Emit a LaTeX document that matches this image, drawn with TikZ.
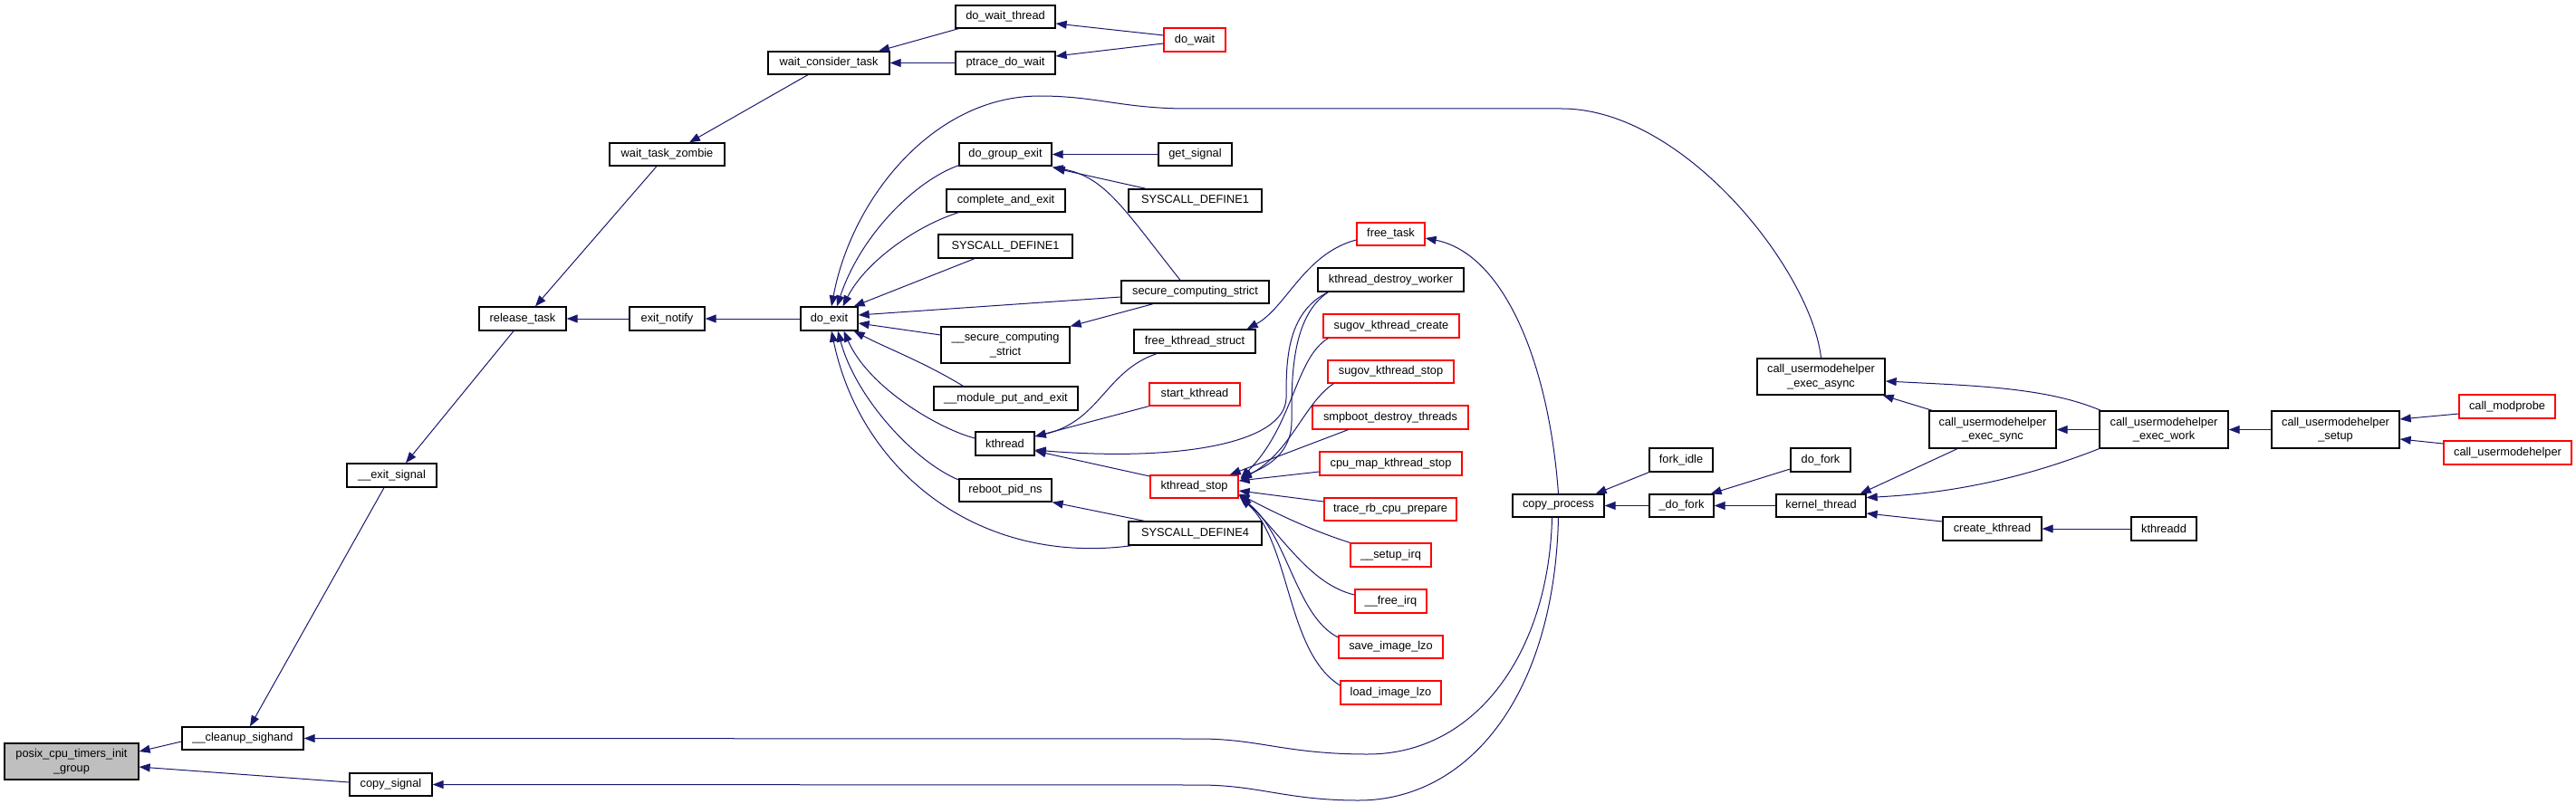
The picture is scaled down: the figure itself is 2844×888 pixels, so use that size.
\documentclass[tikz,border=0pt]{standalone}
\usepackage{fontspec}
\setmainfont{Liberation Sans}
\usetikzlibrary{arrows.meta}
\definecolor{navyc}{RGB}{25,25,112}
\definecolor{grayfill}{RGB}{191,191,191}
\tikzset{
  fn/.style={draw=black, line width=1.3pt, fill=white, inner sep=0pt, align=center,
    font=\fontsize{12.8}{15.5}\selectfont},
  fnred/.style={fn, draw=red},
  fngray/.style={fn, fill=grayfill},
  callarr/.style={draw=navyc, line width=1pt, -{Triangle[length=12pt,width=9pt]}}
}
\newcommand{\fnbox}[6]{\node[#1, minimum width=#4pt, minimum height=#5pt] (#2) at (#3) {#6};}
\begin{document}
\begin{tikzpicture}[x=1pt,y=-1pt]
\useasboundingbox (0,0) rectangle (2844,888);
% nodes
\fnbox{fngray}{posix}{79,841}{148}{40}{posix\_cpu\_timers\_init\\\_group}
\fnbox{fn}{cleanup}{268,815.5}{134}{25}{\_\_cleanup\_sighand}
\fnbox{fn}{copysig}{431.5,866.5}{91}{25}{copy\_signal}
\fnbox{fn}{exitsig}{432.5,525}{99}{26}{\_\_exit\_signal}
\fnbox{fn}{reltask}{577,352}{96}{26}{release\_task}
\fnbox{fn}{wtz}{736.5,170.5}{127}{25}{wait\_task\_zombie}
\fnbox{fn}{wct}{915,69.5}{134}{25}{wait\_consider\_task}
\fnbox{fn}{dwt}{1110,18.5}{110}{25}{do\_wait\_thread}
\fnbox{fn}{pdw}{1110,69.5}{110}{25}{ptrace\_do\_wait}
\fnbox{fnred}{dowait}{1319,44}{68}{26}{do\_wait}
\fnbox{fn}{exnot}{736.5,352}{83}{26}{exit\_notify}
\fnbox{fn}{doexit}{915.5,352}{63}{26}{do\_exit}
\fnbox{fn}{dge}{1110,170.5}{102}{25}{do\_group\_exit}
\fnbox{fn}{getsig}{1319.5,170.5}{81}{25}{get\_signal}
\fnbox{fn}{sdb}{1319.5,221.5}{147}{25}{SYSCALL\_DEFINE1}
\fnbox{fn}{cae}{1110.5,221.5}{131}{25}{complete\_and\_exit}
\fnbox{fn}{sda}{1110,272}{148}{26}{SYSCALL\_DEFINE1}
\fnbox{fn}{scs}{1319.5,322.5}{163}{25}{secure\_computing\_strict}
\fnbox{fn}{uscs}{1110,381}{142}{40}{\_\_secure\_computing\\\_strict}
\fnbox{fn}{mpe}{1110.5,440}{159}{26}{\_\_module\_put\_and\_exit}
\fnbox{fn}{kth}{1109.5,490}{65}{26}{kthread}
\fnbox{fn}{rpn}{1110,541.5}{102}{25}{reboot\_pid\_ns}
\fnbox{fn}{sdd}{1319.5,589}{147}{26}{SYSCALL\_DEFINE4}
\fnbox{fn}{fks}{1319,377}{134}{26}{free\_kthread\_struct}
\fnbox{fnred}{skt}{1319,435.5}{100}{25}{start\_kthread}
\fnbox{fnred}{kst}{1318.5,537.5}{97}{25}{kthread\_stop}
\fnbox{fnred}{ftask}{1535.5,258.5}{75}{25}{free\_task}
\fnbox{fn}{kdw}{1535.5,309}{161}{26}{kthread\_destroy\_worker}
\fnbox{fnred}{sgc}{1536,360}{150}{26}{sugov\_kthread\_create}
\fnbox{fnred}{sgs}{1535.5,410.5}{139}{25}{sugov\_kthread\_stop}
\fnbox{fnred}{sdt}{1535,461}{172}{26}{smpboot\_destroy\_threads}
\fnbox{fnred}{cmk}{1535.5,512}{157}{26}{cpu\_map\_kthread\_stop}
\fnbox{fnred}{trc}{1535,562.5}{146}{25}{trace\_rb\_cpu\_prepare}
\fnbox{fnred}{sirq}{1535.5,613}{89}{26}{\_\_setup\_irq}
\fnbox{fnred}{firq}{1535.5,664}{79}{26}{\_\_free\_irq}
\fnbox{fnred}{sil}{1535.5,714.5}{115}{25}{save\_image\_lzo}
\fnbox{fnred}{lil}{1535.5,765}{111}{26}{load\_image\_lzo}
\fnbox{fn}{cp}{1720.5,558.5}{101}{25}{copy\_process}
\fnbox{fn}{fidle}{1856,508}{70}{26}{fork\_idle}
\fnbox{fn}{udf}{1856.5,558.5}{71}{25}{\_do\_fork}
\fnbox{fn}{dofork}{2010,508}{66}{26}{do\_fork}
\fnbox{fn}{kt}{2010.5,558.5}{99}{25}{kernel\_thread}
\fnbox{fn}{ck}{2199.5,584}{109}{26}{create\_kthread}
\fnbox{fn}{kthd}{2389,584}{72}{26}{kthreadd}
\fnbox{fn}{ea}{2010.5,416}{141}{40}{call\_usermodehelper\\\_exec\_async}
\fnbox{fn}{es}{2200,474.5}{140}{41}{call\_usermodehelper\\\_exec\_sync}
\fnbox{fn}{ew}{2389,474.5}{142}{41}{call\_usermodehelper\\\_exec\_work}
\fnbox{fn}{setup}{2578.5,474.5}{141}{41}{call\_usermodehelper\\\_setup}
\fnbox{fnred}{cmp}{2768,449}{106}{26}{call\_modprobe}
\fnbox{fnred}{cu}{2768.5,500}{141}{26}{call\_usermodehelper}
% edges
\draw[callarr] ([yshift=-3.5pt]cleanup.west) -- ([yshift=11pt]posix.east);
\draw[callarr] ([yshift=2.5pt]copysig.west) -- ([yshift=-6pt]posix.east);
\draw[callarr] ([xshift=-8.5pt]exitsig.south) -- ([xshift=8pt]cleanup.north);
\draw[callarr] ([xshift=-7pt]cp.south) .. controls (1710,720) and (1630,833) .. (1510,833) .. controls (1420,833) and (1390,816) .. (1324,816) -- (cleanup.east);
\draw[callarr] (cp.south) .. controls (1716,770) and (1620,884) .. (1500,884) .. controls (1420,884) and (1390,867) .. (1324,867) -- (copysig.east);
\draw[callarr] ([xshift=-10pt]reltask.south) -- ([xshift=15.5pt]exitsig.north);
\draw[callarr] ([xshift=-11.5pt]wtz.south) -- ([xshift=14pt]reltask.north);
\draw[callarr] (exnot.west) -- (reltask.east);
\draw[callarr] ([xshift=-23pt]wct.south) -- ([xshift=24.5pt]wtz.north);
\draw[callarr] ([xshift=4pt]dwt.south west) -- ([xshift=55pt]wct.north);
\draw[callarr] (pdw.west) -- (wct.east);
\draw[callarr] ([yshift=5pt]dowait.west) -- ([yshift=-7.5pt]dwt.east);
\draw[callarr] ([yshift=-4pt]dowait.west) -- ([yshift=7.5pt]pdw.east);
\draw[callarr] (doexit.west) -- (exnot.east);
\draw[callarr] (ea.north) .. controls (2000,300) and (1860,120) .. (1724,120) -- (1312,120) .. controls (1240,120) and (1210,106) .. (1148,106) .. controls (1030,106) and (940,220) .. ([xshift=2.5pt]doexit.north);
\draw[callarr] ([yshift=1pt]dge.south west) .. controls (1010,200) and (950,260) .. ([xshift=8.5pt]doexit.north);
\draw[callarr] ([xshift=14pt]cae.south west) .. controls (1010,250) and (955,290) .. ([xshift=15pt]doexit.north);
\draw[callarr] ([xshift=-34pt]sda.south) -- ([xshift=-5pt]doexit.north east);
\draw[callarr] ([yshift=-5.5pt]scs.west) -- ([yshift=4pt]doexit.east);
\draw[callarr] ([yshift=11pt]uscs.west) -- ([yshift=-5pt]doexit.east);
\draw[callarr] ([xshift=33pt]mpe.north west) .. controls (1020,400) and (980,385) .. ([xshift=-5pt]doexit.south east);
\draw[callarr] ([yshift=6pt]kth.west) .. controls (1040,475) and (960,430) .. ([xshift=16pt]doexit.south);
\draw[callarr] ([yshift=11.5pt]rpn.west) .. controls (1010,510) and (945,440) .. ([xshift=9.5pt]doexit.south);
\draw[callarr] ([xshift=4pt]sdd.south west) .. controls (1080,625) and (950,520) .. ([xshift=2.5pt]doexit.south);
\draw[callarr] (getsig.west) -- (dge.east);
\draw[callarr] ([xshift=20pt]sdb.north west) -- ([xshift=2pt,yshift=-2pt]dge.south east);
\draw[callarr] ([xshift=-16.5pt]scs.north) .. controls (1240,230) and (1220,195) .. ([yshift=-1pt]dge.south east);
\draw[callarr] ([xshift=-46.5pt]scs.south) -- (uscs.north east);
\draw[callarr] ([xshift=-42pt]fks.south) .. controls (1220,410) and (1215,465) .. ([yshift=8pt]kth.east);
\draw[callarr] (skt.south west) -- ([yshift=8pt]kth.east);
\draw[callarr] ([xshift=12pt]kdw.south west) .. controls (1420,345) and (1420,400) .. (1420,440) .. controls (1418,490) and (1300,510) .. ([yshift=-7pt]kth.east);
\draw[callarr] ([yshift=11.5pt]kst.west) -- ([yshift=-8pt]kth.east);
\draw[callarr] ([yshift=-6.5pt]ftask.west) .. controls (1440,280) and (1420,340) .. ([xshift=-10pt]fks.north east);
\draw[callarr] (cp.north) .. controls (1710,400) and (1660,280) .. ([yshift=-4.5pt]ftask.east);
\draw[callarr] ([xshift=12pt]kdw.south west) .. controls (1425,350) and (1426,420) .. (1426,465) .. controls (1426,500) and (1400,515) .. ([xshift=2pt,yshift=-3pt]kst.north east);
\draw[callarr] ([xshift=6pt]sgc.south west) .. controls (1430,395) and (1428,470) .. ([xshift=2pt,yshift=-4pt]kst.north east);
\draw[callarr] ([xshift=7pt]sgs.south west) .. controls (1440,445) and (1425,500) .. ([xshift=2pt,yshift=-5pt]kst.north east);
\draw[callarr] ([xshift=40pt]sdt.south west) -- ([xshift=-10pt]kst.north east);
\draw[callarr] ([yshift=-9pt]cmk.west) -- ([yshift=6.5pt]kst.east);
\draw[callarr] ([yshift=8.5pt]trc.west) -- ([yshift=-4.5pt]kst.east);
\draw[callarr] (sirq.north west) .. controls (1445,585) and (1405,565) .. ([yshift=-8pt]kst.east);
\draw[callarr] ([yshift=7pt]firq.west) .. controls (1445,645) and (1415,590) .. ([yshift=-9pt]kst.east);
\draw[callarr] ([yshift=10.5pt]sil.west) .. controls (1430,680) and (1422,590) .. ([xshift=1pt,yshift=2pt]kst.south east);
\draw[callarr] ([yshift=8pt]lil.west) .. controls (1420,720) and (1425,600) .. ([xshift=2pt,yshift=1pt]kst.south east);
\draw[callarr] ([xshift=18pt]sdd.north west) -- (rpn.south east);
\draw[callarr] (fidle.south west) -- ([xshift=-10pt]cp.north east);
\draw[callarr] (udf.west) -- (cp.east);
\draw[callarr] ([yshift=-10pt]dofork.west) -- ([xshift=-4pt]udf.north east);
\draw[callarr] (kt.west) -- (udf.east);
\draw[callarr] ([xshift=-39pt]es.south) -- ([xshift=-7pt]kt.north east);
\draw[callarr] (ew.south west) .. controls (2230,530) and (2150,545) .. ([yshift=9pt]kt.east);
\draw[callarr] ([yshift=8pt]ck.west) -- ([yshift=-8.5pt]kt.east);
\draw[callarr] (kthd.west) -- (ck.east);
\draw[callarr] ([xshift=4pt]es.north west) -- ([xshift=-3pt]ea.south east);
\draw[callarr] ([xshift=2pt]ew.north west) .. controls (2260,428) and (2180,426) .. ([yshift=-5pt]ea.east);
\draw[callarr] (ew.west) -- (es.east);
\draw[callarr] (setup.west) -- (ew.east);
\draw[callarr] ([yshift=-8pt]cmp.west) -- ([yshift=11.5pt]setup.east);
\draw[callarr] ([yshift=10pt]cu.west) -- ([yshift=-10.5pt]setup.east);
\end{tikzpicture}
\end{document}
